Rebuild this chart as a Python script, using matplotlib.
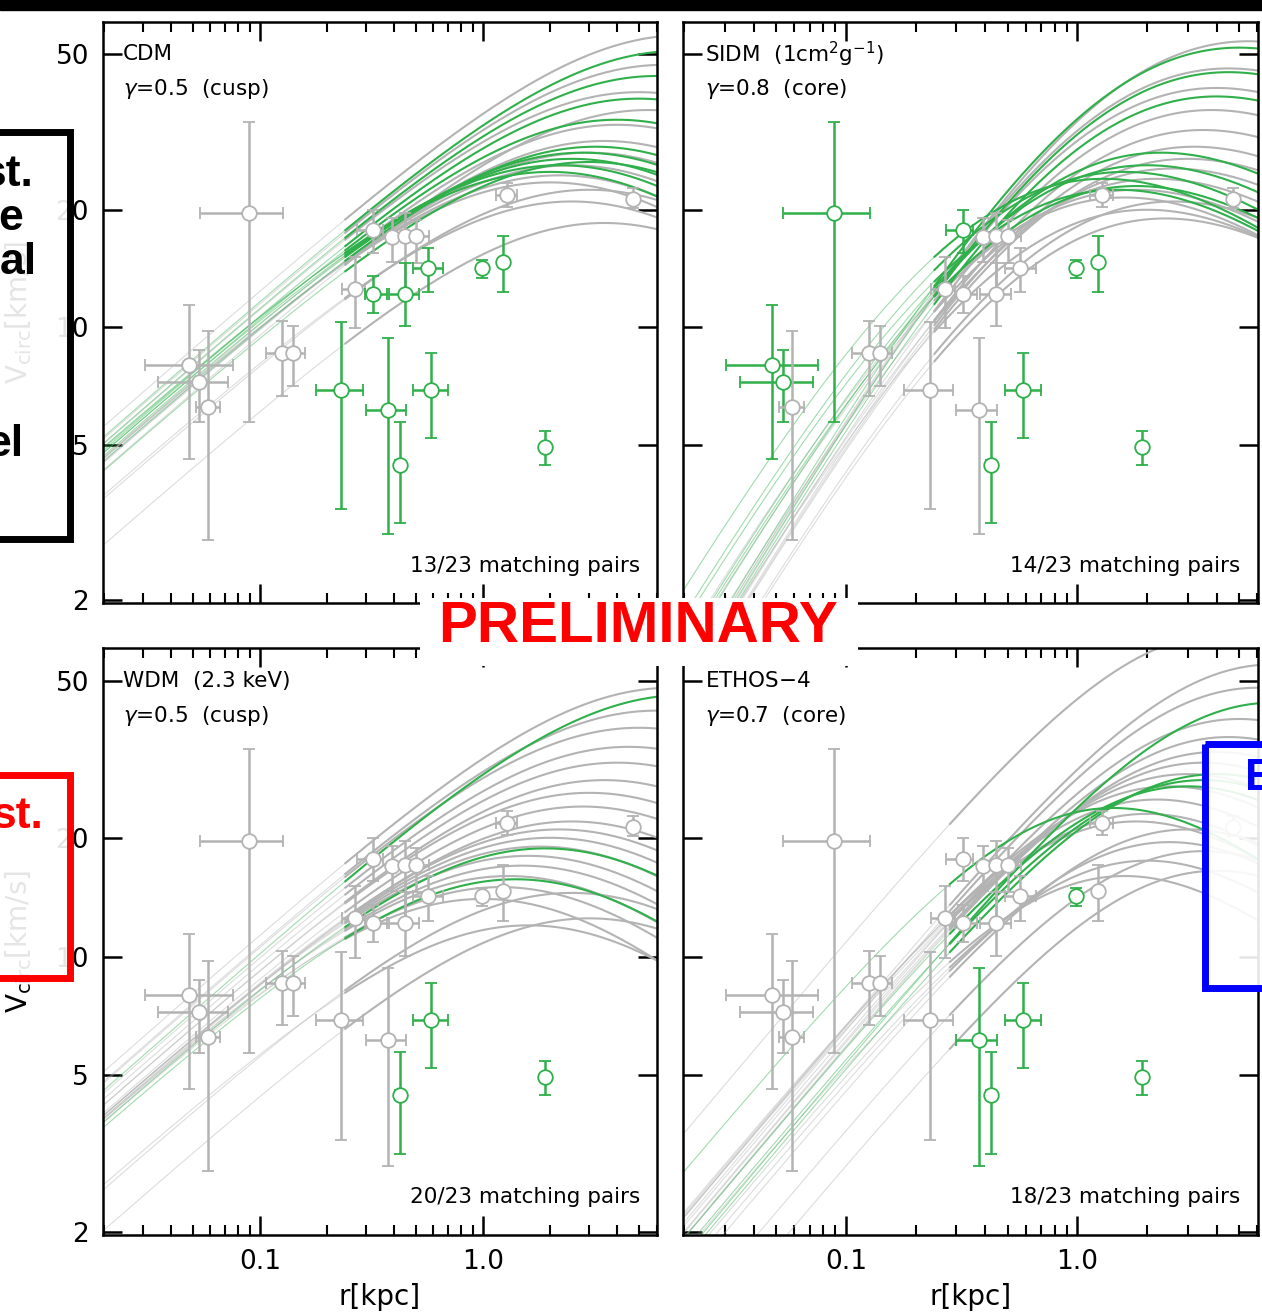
import numpy as np
import matplotlib.pyplot as plt
from matplotlib.patches import Rectangle
from matplotlib.ticker import FixedLocator, NullLocator, LogLocator

GREEN = '#2fb04a'
GREY = '#b3b3b3'

# observed satellites (same 23 points in every panel)
r_obs = [0.048, 0.0533, 0.0585, 0.0893, 0.1255, 0.1406, 0.231, 0.375, 0.424, 0.585, 1.90,
         0.321, 0.391, 0.447, 0.501, 0.567, 0.990, 1.23, 1.28, 4.71, 0.267, 0.321, 0.447]
r_lo = [0.0305, 0.0349, 0.0517, 0.0538, 0.106, 0.127, 0.178, 0.299, 0.405, 0.485, 1.85,
        0.272, 0.375, 0.43, 0.48, 0.485, 0.95, 1.20, 1.14, 4.55, 0.233, 0.296, 0.379]
r_hi = [0.0757, 0.0719, 0.0662, 0.127, 0.1363, 0.159, 0.290, 0.451, 0.445, 0.697, 1.95,
        0.356, 0.41, 0.46, 0.573, 0.662, 1.03, 1.26, 1.42, 4.85, 0.296, 0.37, 0.516]
v_obs = [8.0, 7.23, 6.27, 19.6, 8.58, 8.58, 6.90, 6.13, 4.45, 6.90, 4.95,
         17.7, 17.0, 17.1, 17.1, 14.2, 14.2, 14.7, 21.8, 21.3, 12.5, 12.2, 12.2]
v_lo = [4.61, 5.71, 2.86, 5.71, 6.69, 7.06, 3.43, 2.95, 3.16, 5.22, 4.45,
        15.5, 14.7, 12.4, 14.6, 12.3, 13.4, 12.3, 20.3, 20.2, 9.94, 10.9, 10.06]
v_hi = [11.4, 8.73, 9.77, 33.5, 10.36, 10.06, 10.3, 9.37, 5.74, 8.58, 5.44,
        19.95, 19.1, 19.6, 18.8, 16.0, 14.9, 17.1, 23.4, 22.7, 15.1, 13.5, 14.6]

# which points are green in each panel (1-based)
cdm_green_pts = [7, 8, 9, 10, 11, 16, 17, 18, 22, 23]
sidm_green_pts = [1, 2, 4, 9, 10, 11, 12, 17, 18]
wdm_green_pts = [9, 10, 11]
ethos_green_pts = [8, 9, 10, 11, 17]

# model rotation curves: (r_max [kpc], v_max [km/s], green)
cdm_curves = [
    (8.0, 56, 0), (6.5, 47, 0), (5.0, 40, 0), (5.5, 36, 0), (4.0, 33, 0), (3.5, 30, 0),
    (3.0, 28, 0), (2.5, 26, 0), (2.2, 24.5, 0), (2.0, 23.5, 0), (3.0, 22.5, 0), (2.5, 21, 0),
    (3.5, 18.5, 0),
    (7.5, 51, 1), (6.0, 44, 1), (5.0, 38.5, 1), (4.0, 34, 1), (3.2, 29, 1), (2.8, 28, 1),
    (2.5, 27, 1), (2.2, 26, 1), (2.0, 25, 1), (3.0, 26.5, 1)]
sidm_curves = [
    (5.5, 54, 0), (4.5, 46, 0), (4.0, 41, 0), (3.8, 36, 0), (3.5, 32, 0), (3.2, 29, 0),
    (3.0, 27, 0), (2.6, 25.5, 0), (2.2, 24, 0), (1.8, 22.5, 0), (1.6, 21.5, 0), (2.6, 21, 0),
    (2.0, 20, 0), (2.4, 19, 0),
    (5.0, 52, 1), (4.5, 45, 1), (4.0, 39, 1), (2.3, 28, 1), (2.0, 26, 1), (1.6, 25, 1),
    (1.3, 24, 1), (1.8, 23, 1), (1.5, 22.5, 1)]
wdm_curves = [
    (7.0, 48, 0), (6.0, 42, 0), (5.0, 38, 0), (4.5, 34, 0), (4.0, 31, 0), (3.5, 28, 0),
    (3.0, 26, 0), (2.8, 24, 0), (2.5, 22, 0), (2.2, 21, 0), (2.0, 20, 0), (1.8, 19, 0),
    (1.6, 18, 0), (1.5, 17, 0), (1.3, 16, 0), (1.2, 15, 0), (2.5, 14.5, 0), (1.0, 14, 0),
    (3.0, 12.5, 0), (1.6, 12, 0),
    (8.0, 46, 1), (1.9, 18.8, 1), (1.4, 15.7, 1)]
ethos_curves = [
    (4.5, 66, 0), (7.0, 55, 0), (6.0, 48, 0), (5.0, 40, 0), (4.5, 36, 0), (4.0, 33, 0),
    (3.5, 31, 0), (3.0, 29, 0), (2.5, 27, 0), (2.2, 25, 0), (2.0, 23, 0), (1.8, 22, 0),
    (3.0, 21, 0), (2.5, 19.5, 0), (3.5, 18.5, 0), (2.0, 17.5, 0), (4.0, 16.5, 0), (1.6, 16, 0),
    (7.0, 44, 1), (4.0, 29, 1), (3.5, 28, 1), (3.0, 27, 1), (1.43, 23.8, 1)]

titles = ['CDM', 'SIDM  (1cm$^{2}$g$^{-1}$)', 'WDM  (2.3 keV)', 'ETHOS$-$4']
gamma_labels = ['$\\gamma$=0.5  (cusp)', '$\\gamma$=0.8  (core)',
                '$\\gamma$=0.5  (cusp)', '$\\gamma$=0.7  (core)']
pair_labels = ['13/23 matching pairs', '14/23 matching pairs',
               '20/23 matching pairs', '18/23 matching pairs']
# profile shape per panel: inner slope, outer slope, sharpness, resolved radius
shapes = [(0.5, 0.5, 1.0, 0.24), (1.0, 0.5, 0.6, 0.24),
          (0.5, 0.5, 1.0, 0.24), (0.7, 0.5, 1.0, 0.28)]


def vcirc(r, rmax, vmax, g, b, a):
    x = r / rmax
    return vmax * ((g + b) / (b * x ** (-g * a) + g * x ** (b * a))) ** (1.0 / a)


fig = plt.figure(figsize=(12.62, 13.14), dpi=100)
positions = [[0.0816, 0.5411, 0.439, 0.4422], [0.5412, 0.5411, 0.4556, 0.4422],
             [0.0816, 0.0601, 0.439, 0.4467], [0.5412, 0.0601, 0.4556, 0.4467]]
all_curves = [cdm_curves, sidm_curves, wdm_curves, ethos_curves]
all_green = [cdm_green_pts, sidm_green_pts, wdm_green_pts, ethos_green_pts]

rr = np.logspace(np.log10(0.0195), np.log10(6.1), 300)

for i in range(4):
    ax = fig.add_axes(positions[i])
    g, b, a, rconv = shapes[i]
    for rmax, vmax, green in all_curves[i]:
        v = vcirc(rr, rmax, vmax, g, b, a)
        col = GREEN if green else GREY
        inner = rr <= rconv * 1.02
        outer = rr >= rconv
        ax.plot(rr[inner], v[inner], color=col, lw=0.8, alpha=0.45, zorder=2)
        ax.plot(rr[outer], v[outer], color=col, lw=1.5, zorder=2.5 if green else 2.2)
    for k in range(len(r_obs)):
        col = GREEN if (k + 1) in all_green[i] else GREY
        ax.errorbar([r_obs[k]], [v_obs[k]],
                    xerr=[[r_obs[k] - r_lo[k]], [r_hi[k] - r_obs[k]]],
                    yerr=[[v_obs[k] - v_lo[k]], [v_hi[k] - v_obs[k]]],
                    fmt='o', ms=10.5, mfc='white', mec=col, mew=1.3, ecolor=col,
                    elinewidth=1.8, capsize=4.5, capthick=1.8, zorder=4)

    ax.set_xscale('log')
    ax.set_yscale('log')
    ax.set_xlim(0.0198, 6.03)
    ax.set_ylim(1.97, 60.5)
    ax.yaxis.set_major_locator(FixedLocator([2, 5, 10, 20, 50]))
    ax.yaxis.set_minor_locator(NullLocator())
    ax.xaxis.set_major_locator(FixedLocator([0.1, 1.0]))
    ax.xaxis.set_minor_locator(LogLocator(base=10, subs=np.arange(2, 10)))
    ax.tick_params(which='both', direction='in', top=True, right=True, width=1.8)
    ax.tick_params(which='major', length=14, pad=10, labelsize=19)
    ax.tick_params(which='minor', length=7, width=1.5)
    for s in ax.spines.values():
        s.set_linewidth(1.8)
    if i % 2 == 0:
        ax.set_yticklabels(['2', '5', '10', '20', '50'])
        ax.set_ylabel('V$_{\\rm circ}$[km/s]', fontsize=20)
        ax.yaxis.set_label_coords(-0.125, 0.5)
    else:
        ax.tick_params(labelleft=False)
    if i >= 2:
        ax.set_xticklabels(['0.1', '1.0'])
        ax.set_xlabel('r[kpc]', fontsize=20, labelpad=6)
    else:
        ax.tick_params(labelbottom=False)
    ax.xaxis.set_minor_formatter(plt.NullFormatter())

    tx = 0.036 if i % 2 == 0 else 0.038
    ax.text(tx, 0.944, titles[i], transform=ax.transAxes, fontsize=15.5, va='center')
    ax.text(tx, 0.884, gamma_labels[i], transform=ax.transAxes, fontsize=15.5, va='center')
    ax.text(0.969, 0.064, pair_labels[i], transform=ax.transAxes, fontsize=15.5,
            ha='right', va='center')

# overlay in pixel coordinates
ov = fig.add_axes([0, 0, 1, 1], zorder=10)
ov.set_xlim(0, 1262)
ov.set_ylim(1314, 0)
ov.axis('off')
ov.patch.set_alpha(0)

ov.add_patch(Rectangle((0, 0), 1262, 10, color='black'))

bold = dict(family='Liberation Sans', weight='bold', fontsize=32)
ov.add_patch(Rectangle((-20, 132), 90, 407, facecolor='white', alpha=0.9, edgecolor='none'))
ov.add_patch(Rectangle((-20, 132), 90, 407, facecolor='none', edgecolor='black', lw=5))
ov.text(33, 175, 'st.', ha='right', va='center', color='black', **bold)
ov.text(23, 218, 'e', ha='right', va='center', color='black', **bold)
ov.text(37, 262, 'al', ha='right', va='center', color='black', **bold)
ov.text(23, 445, 'el', ha='right', va='center', color='black', **bold)

ov.add_patch(Rectangle((-20, 775), 90, 203, facecolor='white', alpha=0.9, edgecolor='none'))
ov.add_patch(Rectangle((-20, 775), 90, 203, facecolor='none', edgecolor='red', lw=5))
ov.text(43, 817, 'st.', ha='right', va='center', color='red', **bold)

ov.add_patch(Rectangle((1205, 744), 90, 244, facecolor='white', alpha=0.9, edgecolor='none'))
ov.add_patch(Rectangle((1205, 744), 90, 244, facecolor='none', edgecolor='blue', lw=5))
ov.text(1245, 778, 'E', ha='left', va='center', color='blue', **bold)

ov.add_patch(Rectangle((420, 598), 438, 68, facecolor='white', edgecolor='none'))
ov.text(638, 627, 'PRELIMINARY', ha='center', va='center', color='red',
        family='Liberation Sans', weight='bold', fontsize=42)

fig.savefig('out.png', dpi=100)
